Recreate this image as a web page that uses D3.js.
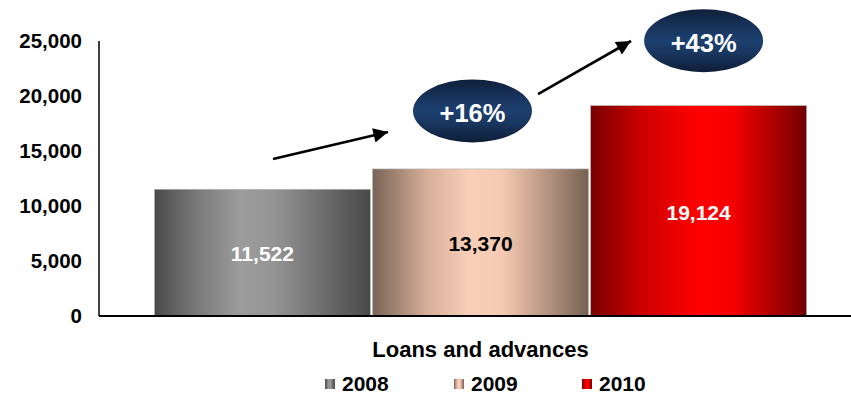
<!DOCTYPE html>
<html>
<head>
<meta charset="utf-8">
<script src="https://cdn.jsdelivr.net/npm/d3@7"></script>
<style>
  html, body { margin: 0; padding: 0; background: #fff; }
  svg { display: block; }
  text { font-family: "Liberation Sans", Arial, sans-serif; font-weight: bold; }
</style>
</head>
<body>
<svg id="chart" width="851" height="397"></svg>
<script>
// Loans and advances by year
const categories = ["Loans and advances"];
const years = ["2008", "2009", "2010"];
const values = [11522, 13370, 19124];
const yTicks = [0, 5000, 10000, 15000, 20000, 25000];
const growthLabels = ["+16%", "+43%"];

const W = 851, H = 397;
const margin = { top: 41, right: -11, bottom: 81, left: 99 };

const svg = d3.select("#chart");
const defs = svg.append("defs");

// horizontal "cylinder" gradients per year
const barStops = {
  "2008": [[0, "#4a4a4a"], [0.2, "#7a7a7a"], [0.4, "#9c9c9c"], [0.55, "#959595"], [0.8, "#6a6a6a"], [1, "#484848"]],
  "2009": [[0, "#786457"], [0.25, "#d6ae98"], [0.45, "#f9cfb8"], [0.6, "#f6cab2"], [0.82, "#b2917f"], [1, "#776153"]],
  "2010": [[0, "#7a0000"], [0.25, "#d00000"], [0.5, "#ff0000"], [0.65, "#f80000"], [0.88, "#a00000"], [1, "#6e0000"]]
};
years.forEach(y => {
  const g = defs.append("linearGradient").attr("id", "bar" + y)
    .attr("x1", "0%").attr("x2", "100%").attr("y1", "0%").attr("y2", "0%");
  barStops[y].forEach(([o, c]) => g.append("stop").attr("offset", o).attr("stop-color", c));
});

// navy bubble shading, dark at top and bottom
const ell = defs.append("linearGradient").attr("id", "bubble")
  .attr("x1", "0%").attr("x2", "0%").attr("y1", "0%").attr("y2", "100%");
[[0, "#0f1f39"], [0.3, "#18355e"], [0.5, "#1c406f"], [0.7, "#18365f"], [1, "#0e1d36"]]
  .forEach(([o, c]) => ell.append("stop").attr("offset", o).attr("stop-color", c));

defs.append("marker").attr("id", "head")
  .attr("viewBox", "0 0 10 10").attr("refX", 10).attr("refY", 5)
  .attr("markerWidth", 6.8).attr("markerHeight", 5.6).attr("markerUnits", "strokeWidth")
  .attr("orient", "auto")
  .append("path").attr("d", "M0,0 L10,5 L0,10 Z").attr("fill", "#000");

const plotW = W - margin.left - margin.right;
const plotH = H - margin.top - margin.bottom;

const x0 = d3.scaleBand().domain(categories).range([margin.left, margin.left + plotW]).paddingOuter(0.085);
const x1 = d3.scaleBand().domain(years).range([x0(categories[0]), x0(categories[0]) + x0.bandwidth()]).paddingInner(0.01);
const y = d3.scaleLinear().domain([0, 25000]).range([margin.top + plotH, margin.top]);

// y axis labels
svg.append("g").selectAll("text").data(yTicks).join("text")
  .attr("x", 82).attr("y", d => y(d)).attr("dy", "0.35em")
  .attr("text-anchor", "end").attr("font-size", 20.5).attr("fill", "#000")
  .text(d => d3.format(",")(d));

// bars
const bars = svg.append("g");
bars.selectAll("rect").data(years).join("rect")
  .attr("x", d => x1(d)).attr("width", x1.bandwidth())
  .attr("y", (d, i) => y(values[i]))
  .attr("height", (d, i) => y(0) - y(values[i]))
  .attr("fill", d => `url(#bar${d})`)
  .attr("stroke", "#b8b8b8").attr("stroke-width", 0.6);

// value labels, centred in each bar
const labelColors = ["#fff", "#000", "#fff"];
bars.selectAll("text").data(years).join("text")
  .attr("x", d => x1(d) + x1.bandwidth() / 2)
  .attr("y", (d, i) => (y(values[i]) + y(0)) / 2 + 1.5)
  .attr("dy", "0.35em").attr("text-anchor", "middle")
  .attr("font-size", 21).attr("fill", (d, i) => labelColors[i])
  .text((d, i) => d3.format(",")(values[i]));

// axes lines
svg.append("line").attr("x1", margin.left).attr("x2", margin.left)
  .attr("y1", y(25000)).attr("y2", y(0)).attr("stroke", "#000").attr("stroke-width", 1.5);
svg.append("line").attr("x1", margin.left).attr("x2", W)
  .attr("y1", y(0)).attr("y2", y(0)).attr("stroke", "#000").attr("stroke-width", 2);

// category label
svg.append("text").attr("x", x0(categories[0]) + x0.bandwidth() / 2).attr("y", 349)
  .attr("dy", "0.35em").attr("text-anchor", "middle").attr("font-size", 22)
  .text(categories[0]);

// legend
const legendX = [325, 454, 582];
const leg = svg.append("g").selectAll("g").data(years).join("g")
  .attr("transform", (d, i) => `translate(${legendX[i]},384)`);
leg.append("rect").attr("x", 0).attr("y", -5).attr("width", 10).attr("height", 10)
  .attr("fill", d => `url(#bar${d})`);
leg.append("text").attr("x", 17).attr("dy", "0.35em").attr("font-size", 21).text(d => d);

// growth arrows and bubbles
const ann = svg.append("g");
const bubbles = [
  { cx: x1("2009") + x1.bandwidth() / 2 - 8, cy: y(18640), text: growthLabels[0] },
  { cx: x1("2010") + x1.bandwidth() / 2 + 5, cy: y(25030), text: growthLabels[1] }
];
const arrows = [
  { x1: 273, y1: y(14270), x2: 388, y2: y(16730) },
  { x1: 538, y1: y(20180), x2: 631, y2: y(25000) }
];
ann.selectAll("line").data(arrows).join("line")
  .attr("x1", d => d.x1).attr("y1", d => d.y1).attr("x2", d => d.x2).attr("y2", d => d.y2)
  .attr("stroke", "#000").attr("stroke-width", 2.6).attr("marker-end", "url(#head)");
ann.selectAll("ellipse").data(bubbles).join("ellipse")
  .attr("cx", d => d.cx).attr("cy", d => d.cy).attr("rx", 59.5).attr("ry", 31.5)
  .attr("fill", "url(#bubble)");
ann.selectAll("text").data(bubbles).join("text")
  .attr("x", d => d.cx).attr("y", d => d.cy + 2).attr("dy", "0.35em")
  .attr("text-anchor", "middle").attr("font-size", 25.5).attr("fill", "#fff")
  .text(d => d.text);
</script>
</body>
</html>
